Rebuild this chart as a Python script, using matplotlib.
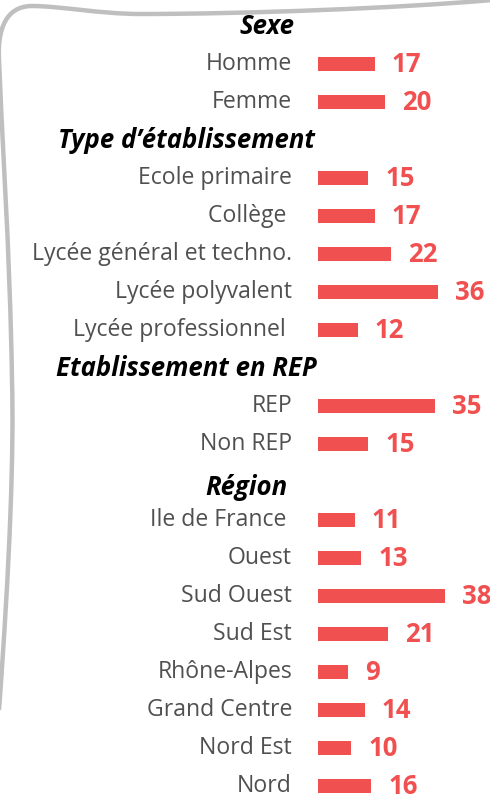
import matplotlib.pyplot as plt
from matplotlib.path import Path
from matplotlib.patches import PathPatch
from matplotlib.transforms import Affine2D

# ----------------------------
# Data
# ----------------------------
sections = ["Sexe", "Type d\u2019établissement", "Etablissement en REP", "Région"]

sexe_labels = ["Homme", "Femme"]
sexe_values = [17, 20]

type_labels = ["Ecole primaire", "Collège ", "Lycée général et techno.",
               "Lycée polyvalent", "Lycée professionnel "]
type_values = [15, 17, 22, 36, 12]

rep_labels = ["REP", "Non REP"]
rep_values = [35, 15]

region_labels = ["Ile de France ", "Ouest", "Sud Ouest", "Sud Est",
                 "Rhône-Alpes", "Grand Centre", "Nord Est", "Nord"]
region_values = [11, 13, 38, 21, 9, 14, 10, 16]

groups = [
    (sexe_labels, sexe_values),
    (type_labels, type_values),
    (rep_labels, rep_values),
    (region_labels, region_values),
]

# header horizontal centre (pixels) and small vertical nudge (rows)
header_x = [267, 186, 186, 246]
header_dy = [0.0, 0.0, 0.0, 0.15]

# ----------------------------
# Layout
# ----------------------------
W, H = 490, 798
bar_x0 = 318          # pixel where bars start
px_per_unit = 3.34
row_px = 38
first_row_px = 26

red = "#F05050"
grey = "#505050"

fig = plt.figure(figsize=(W / 100, H / 100), dpi=100)
ax = fig.add_axes([0, 0, 1, 1])
ax.set_xlim(-bar_x0 / px_per_unit, (W - bar_x0) / px_per_unit)
ax.set_ylim((H - first_row_px) / row_px, -first_row_px / row_px)
ax.axis("off")

row = 0
for (labels, values), title, hx, hdy in zip(groups, sections, header_x, header_dy):
    ax.text(hx / W, row + hdy, title, transform=ax.get_yaxis_transform(),
            ha="center", va="center", fontsize=18.5, fontweight="bold",
            fontstyle="italic", family="Open Sans", color="black")
    row += 1
    ys = list(range(row, row + len(values)))
    ax.barh(ys, values, height=0.37, color=red)
    for y, lab, v in zip(ys, labels, values):
        ax.annotate(lab, (0, y), xytext=(-18.7, 0), textcoords="offset points",
                    ha="right", va="center", fontsize=16.6, family="Open Sans",
                    color=grey)
        ax.annotate(str(v), (v, y), xytext=(12.2, 0), textcoords="offset points",
                    ha="left", va="center", fontsize=18.5, fontweight="bold",
                    family="Open Sans", color=red)
    row += len(values)

# ----------------------------
# Grey frame (decorative curved border)
# ----------------------------
verts = [
    (-1, 710),
    (10, 560), (14, 450), (12, 380),
    (10, 250), (1, 120), (-1, 60),
    (-3, 20), (12, 6), (32, 6),
    (60, 6), (100, 14), (140, 14),
    (250, 14), (400, 8), (492, 0),
]
codes = [Path.MOVETO] + [Path.CURVE4] * 15
frame = PathPatch(Path(verts, codes), facecolor="none", edgecolor="#BFBFBF",
                  lw=3.2)
# pixel coords (origin top-left) to display coords
frame.set_transform(Affine2D().scale(1, -1).translate(0, H))
fig.add_artist(frame)

plt.savefig("out.png", dpi=100)
